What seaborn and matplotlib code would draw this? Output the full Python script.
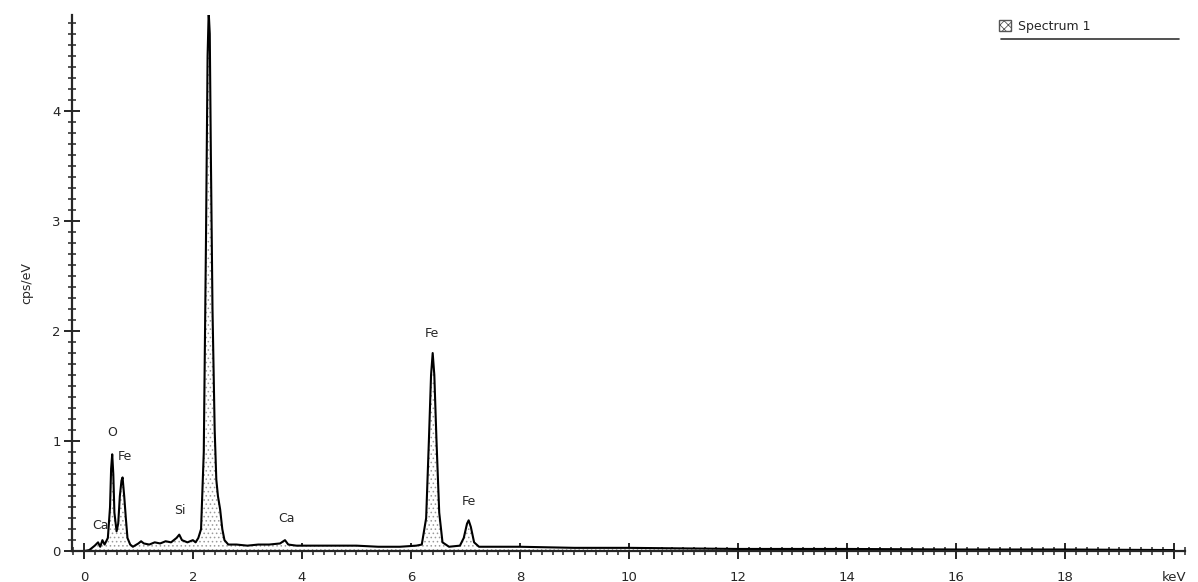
import numpy as np
import pandas as pd
import seaborn as sns
import matplotlib.pyplot as plt
from matplotlib.patches import Patch
from matplotlib.ticker import MultipleLocator

# ── Spectrum (keV, cps/eV) ─────────────────────────────────────────────────────
energy = [0.00, 0.10, 0.20, 0.26, 0.30, 0.34, 0.38, 0.44, 0.48, 0.50, 0.52, 0.54,
          0.56, 0.60, 0.63, 0.66, 0.69, 0.71, 0.74, 0.77, 0.80, 0.85, 0.90, 1.00,
          1.05, 1.10, 1.20, 1.30, 1.40, 1.50, 1.60, 1.70, 1.75, 1.80, 1.90, 2.00,
          2.05, 2.10, 2.15, 2.20, 2.24, 2.27, 2.29, 2.31, 2.33, 2.36, 2.40, 2.43,
          2.46, 2.50, 2.54, 2.58, 2.65, 2.80, 3.00, 3.20, 3.40, 3.60, 3.69, 3.75,
          3.90, 4.20, 4.60, 5.00, 5.40, 5.80, 6.10, 6.20, 6.28, 6.33, 6.37, 6.40,
          6.43, 6.47, 6.52, 6.58, 6.70, 6.90, 6.97, 7.03, 7.06, 7.10, 7.16, 7.25,
          7.60, 8.00, 9.00, 10.0, 12.0, 14.0, 16.0, 18.0, 20.0]
counts = [0.00, 0.01, 0.05, 0.08, 0.04, 0.10, 0.06, 0.12, 0.40, 0.75, 0.88, 0.70,
          0.35, 0.18, 0.25, 0.50, 0.64, 0.67, 0.50, 0.30, 0.12, 0.06, 0.04, 0.07,
          0.09, 0.07, 0.06, 0.08, 0.07, 0.09, 0.08, 0.12, 0.15, 0.10, 0.08, 0.10,
          0.08, 0.12, 0.20, 0.90, 2.80, 4.50, 4.90, 4.70, 3.60, 2.20, 1.10, 0.65,
          0.50, 0.38, 0.20, 0.10, 0.06, 0.06, 0.05, 0.06, 0.06, 0.07, 0.10, 0.06,
          0.05, 0.05, 0.05, 0.05, 0.04, 0.04, 0.05, 0.06, 0.30, 1.00, 1.60, 1.80,
          1.60, 1.00, 0.35, 0.08, 0.04, 0.05, 0.12, 0.25, 0.28, 0.22, 0.08, 0.04,
          0.04, 0.04, 0.03, 0.03, 0.02, 0.02, 0.015, 0.015, 0.01]

# element labels: name, energy, label height
peak_names = ["Ca", "O", "Fe", "Si", "Ca", "Fe", "Fe"]
peak_x = [0.30, 0.52, 0.75, 1.76, 3.72, 6.39, 7.07]
peak_y = [0.17, 1.02, 0.80, 0.31, 0.24, 1.92, 0.39]

xtick_vals = [0, 2, 4, 6, 8, 10, 12, 14, 16, 18, 20]
xtick_labels = ["0", "2", "4", "6", "8", "10", "12", "14", "16", "18", "keV"]
ytick_vals = [0, 1, 2, 3, 4]

df = pd.DataFrame({"keV": energy, "cps": counts})

# ── Plot ───────────────────────────────────────────────────────────────────────
sns.set_style("ticks")
plt.rcParams["font.family"] = ["DejaVu Sans"]
plt.rcParams["hatch.linewidth"] = 0.6

fig = plt.figure(figsize=(11.98, 5.82), dpi=100)
ax = fig.add_axes([0.060, 0.053, 0.929, 0.921])

ax.fill_between(df["keV"], 0, df["cps"], facecolor="white",
                edgecolor="#9a9a9a", hatch="....", linewidth=0)
sns.lineplot(data=df, x="keV", y="cps", color="black", linewidth=1.5, ax=ax)

for name, x, y in zip(peak_names, peak_x, peak_y):
    ax.text(x, y, name, ha="center", va="bottom", fontsize=9)

ax.set_xlim(-0.22, 20.2)
ax.set_ylim(0, 4.87)
ax.set_xticks(xtick_vals)
ax.set_xticklabels(xtick_labels)
ax.set_yticks(ytick_vals)
ax.xaxis.set_minor_locator(MultipleLocator(0.2))
ax.yaxis.set_minor_locator(MultipleLocator(0.1))
ax.tick_params(axis="both", which="major", direction="inout", length=12,
               width=1.4, labelsize=9.5)
ax.tick_params(axis="both", which="minor", direction="inout", length=6, width=1.1)
ax.tick_params(axis="x", which="major", pad=8)
ax.tick_params(axis="y", which="major", pad=2)

ax.set_xlabel("")
ax.set_ylabel("cps/eV", fontsize=9, labelpad=14)
for side in ["top", "right"]:
    ax.spines[side].set_visible(False)
for side in ["left", "bottom"]:
    ax.spines[side].set_linewidth(1.6)

handle = Patch(facecolor="white", edgecolor="#555555", hatch="xxxx", label="Spectrum 1")
leg = ax.legend(handles=[handle], loc="upper right", bbox_to_anchor=(0.925, 1.012),
                frameon=False, fontsize=9, handlelength=1.0, handleheight=1.0,
                handletextpad=0.5)
ax.plot([0.835, 0.995], [0.955, 0.955], transform=ax.transAxes, color="#333333",
        linewidth=1.2, clip_on=False)

plt.savefig("out.png", dpi=100)
